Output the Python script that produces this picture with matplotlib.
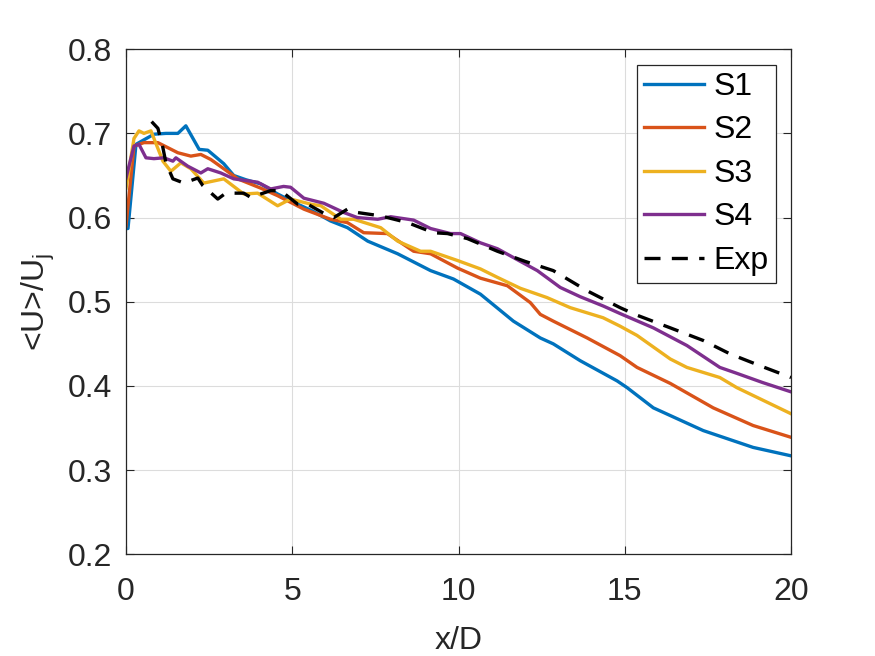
import matplotlib
matplotlib.use("Agg")
import matplotlib.pyplot as plt

# centreline velocity decay
x_s1 = [0, 0.06, 0.3, 0.84, 1.2, 1.56, 1.8, 2.2, 2.46, 2.94, 3.24, 3.6, 4.05, 4.56,
        5.16, 5.6, 6.15, 6.66, 7.27, 8.17, 9.16, 9.85, 10.66, 11.65, 12.46, 12.85,
        13.66, 14.77, 15.07, 15.86, 17.36, 18.86, 20]
u_s1 = [0.587, 0.587, 0.687, 0.699, 0.700, 0.700, 0.709, 0.681, 0.680, 0.664, 0.650,
        0.645, 0.640, 0.628, 0.616, 0.608, 0.596, 0.588, 0.572, 0.557, 0.537, 0.527,
        0.509, 0.477, 0.457, 0.450, 0.430, 0.406, 0.398, 0.374, 0.347, 0.327, 0.317]

x_s2 = [0, 0.24, 0.54, 0.96, 1.56, 1.95, 2.25, 2.55, 2.94, 3.36, 4.05, 4.56, 5.35,
        6.15, 6.66, 7.15, 7.86, 8.65, 9.16, 9.97, 10.66, 11.47, 12.16, 12.46, 12.85,
        13.87, 14.86, 15.37, 16.37, 17.66, 18.86, 20]
u_s2 = [0.590, 0.685, 0.689, 0.689, 0.677, 0.673, 0.675, 0.669, 0.658, 0.646, 0.635,
        0.626, 0.610, 0.598, 0.594, 0.582, 0.581, 0.560, 0.557, 0.540, 0.528, 0.519,
        0.499, 0.485, 0.477, 0.457, 0.436, 0.422, 0.403, 0.374, 0.353, 0.339]

x_s3 = [0, 0.24, 0.39, 0.54, 0.75, 0.84, 1.11, 1.35, 1.65, 1.95, 2.34, 2.94, 3.54,
        3.96, 4.56, 4.95, 5.55, 5.86, 6.46, 6.85, 7.66, 8.17, 8.86, 9.16, 9.97, 10.66,
        11.17, 11.86, 12.66, 13.36, 14.35, 14.86, 15.37, 16.37, 16.87, 17.86, 18.37, 20]
u_s3 = [0.635, 0.694, 0.703, 0.700, 0.703, 0.694, 0.667, 0.655, 0.665, 0.658, 0.641,
        0.646, 0.628, 0.629, 0.614, 0.622, 0.616, 0.614, 0.598, 0.598, 0.588, 0.572,
        0.560, 0.560, 0.549, 0.539, 0.529, 0.516, 0.505, 0.493, 0.481, 0.471, 0.460,
        0.432, 0.422, 0.410, 0.398, 0.367]

x_s4 = [0, 0.24, 0.39, 0.6, 0.84, 1.14, 1.41, 1.5, 1.86, 2.25, 2.46, 2.85, 3.24, 3.96,
        4.35, 4.74, 4.95, 5.35, 5.95, 6.55, 6.96, 7.57, 7.96, 8.65, 9.16, 9.76, 10.06,
        10.66, 11.17, 11.86, 12.37, 13.06, 13.66, 14.35, 14.86, 15.86, 16.87, 17.86,
        18.37, 19.15, 20]
u_s4 = [0.647, 0.685, 0.687, 0.671, 0.670, 0.671, 0.667, 0.671, 0.661, 0.653, 0.658,
        0.653, 0.646, 0.642, 0.634, 0.637, 0.636, 0.623, 0.617, 0.606, 0.600, 0.598,
        0.601, 0.597, 0.587, 0.581, 0.581, 0.570, 0.563, 0.548, 0.537, 0.517, 0.506,
        0.495, 0.486, 0.469, 0.448, 0.422, 0.415, 0.404, 0.393]

x_exp = [0.77, 0.96, 1.11, 1.2, 1.41, 1.74, 2.16, 2.31, 2.76, 3.0, 3.54, 3.75, 4.35,
         4.65, 5.16, 5.46, 5.95, 6.25, 6.66, 6.96, 7.66, 8.47, 9.25, 9.67, 10.27,
         11.17, 12.0, 12.85, 13.87, 14.86, 15.37, 16.37, 17.36, 18.17, 19.07, 20]
u_exp = [0.714, 0.706, 0.683, 0.665, 0.646, 0.641, 0.647, 0.638, 0.622, 0.629, 0.629,
         0.624, 0.632, 0.632, 0.616, 0.616, 0.605, 0.600, 0.610, 0.606, 0.602, 0.594,
         0.582, 0.581, 0.575, 0.560, 0.548, 0.537, 0.513, 0.493, 0.484, 0.469, 0.454,
         0.438, 0.424, 0.410]

plt.rcParams["font.family"] = ["Liberation Sans", "DejaVu Sans"]
plt.rcParams["mathtext.fontset"] = "custom"
plt.rcParams["mathtext.rm"] = "Liberation Sans"

ink = "#262626"
fs = 23
fig = plt.figure(figsize=(8.75, 6.56), dpi=100)
ax = fig.add_axes([0.144, 0.155, 0.76, 0.77])

lw = 2.4
ax.plot(x_s1, u_s1, color="#0072BD", lw=lw, label="S1")
ax.plot(x_s2, u_s2, color="#D95319", lw=lw, label="S2")
ax.plot(x_s3, u_s3, color="#EDB120", lw=lw, label="S3")
ax.plot(x_s4, u_s4, color="#7E2F8E", lw=lw, label="S4")
ax.plot(x_exp, u_exp, color="black", lw=lw, dashes=(4.8, 3.4), label="Exp")

ax.set_xlim(0, 20)
ax.set_ylim(0.2, 0.8)
ax.set_xticks([0, 5, 10, 15, 20])
ax.set_yticks([0.2, 0.3, 0.4, 0.5, 0.6, 0.7, 0.8])
ax.set_yticklabels(["0.2", "0.3", "0.4", "0.5", "0.6", "0.7", "0.8"])
ax.grid(color="#dcdcdc", lw=0.8)
ax.set_axisbelow(True)
ax.tick_params(direction="in", top=True, right=True, length=6, width=0.8,
               labelsize=fs, colors=ink)
ax.tick_params(axis="x", pad=16)
ax.tick_params(axis="y", pad=10)
for sp in ax.spines.values():
    sp.set_color(ink)
    sp.set_linewidth(0.9)

ax.set_xlabel("x/D", fontsize=fs, color=ink, labelpad=14)
ax.set_ylabel(r"<U>/U$_\mathregular{j}$", fontsize=fs, color=ink, labelpad=8)

leg = ax.legend(loc="upper right", bbox_to_anchor=(776 / 875, 1 - 65 / 656),
                bbox_transform=fig.transFigure, borderaxespad=0, fontsize=fs,
                handlelength=1.9, labelspacing=0.42, handletextpad=0.3,
                borderpad=0.22, fancybox=False, framealpha=1)
leg.get_frame().set_edgecolor(ink)
leg.get_frame().set_linewidth(0.9)

fig.savefig("out.png", dpi=100)
